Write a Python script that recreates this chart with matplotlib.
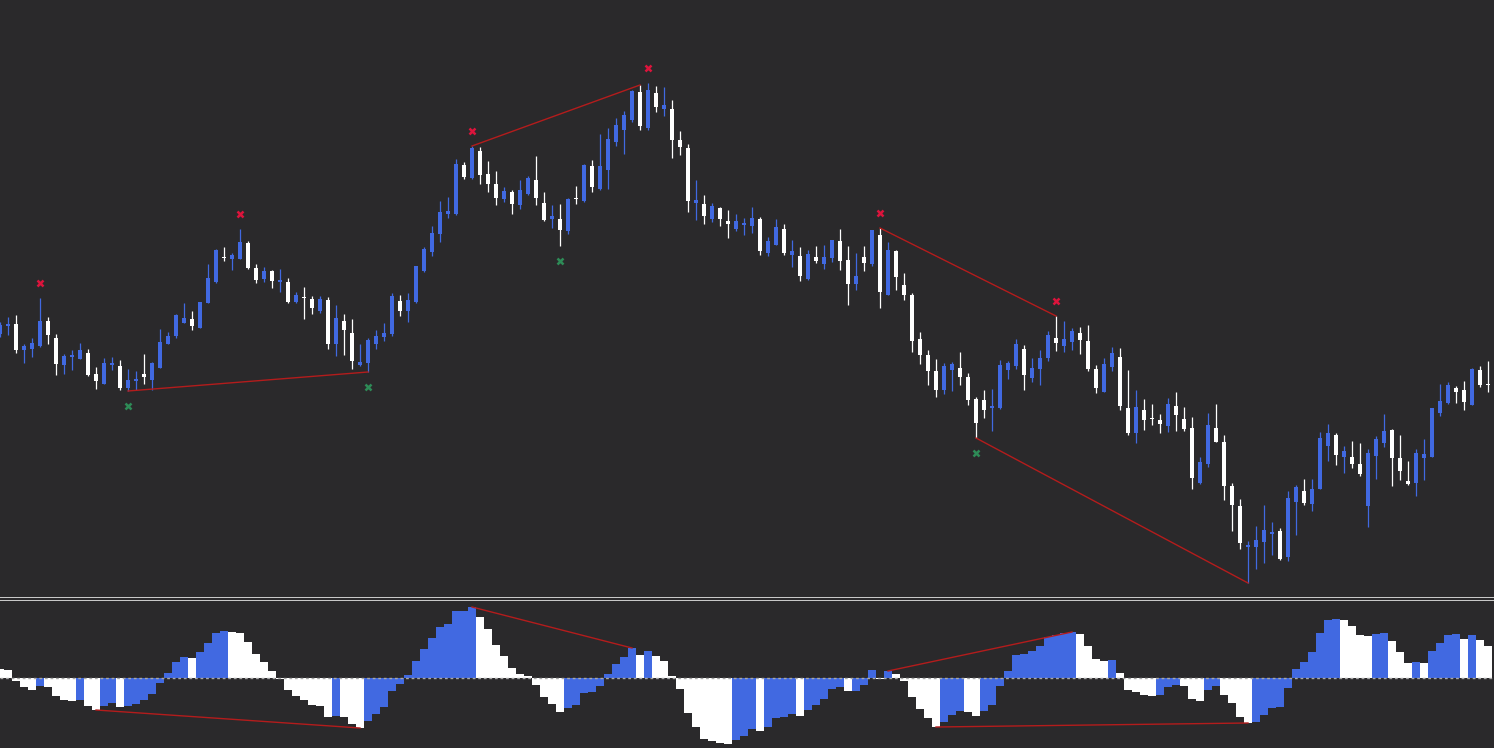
import numpy as np
import matplotlib
matplotlib.use("Agg")
import matplotlib.pyplot as plt

# --- price data (arbitrary points), one candle per bar ---
opens = [666, 674, 676, 650, 651, 654, 679, 662, 635, 643, 641, 647, 626, 616, 635, 634, 612, 619, 626, 620,
         632, 656, 664, 677, 681, 672, 697, 718, 742.5, 741, 741, 757, 732, 721, 729, 718, 718, 698, 703, 701,
         689, 700, 656, 679, 667, 635, 637, 656, 663, 666, 699, 689, 698, 729, 748, 766, 786, 786, 835, 822,
         849, 826, 816, 801, 808, 795, 806, 820, 797, 781, 781, 769, 801.5, 799, 834, 811, 830, 858, 870, 880,
         908, 872, 907, 891, 891, 860, 852, 797, 796, 781, 792, 779, 771, 775, 774, 781, 747, 755, 771, 745,
         744, 721, 743, 736, 742, 759, 740, 716, 743, 736, 765, 705, 749, 715, 705, 661, 645, 629, 610, 630,
         632, 623, 601, 600, 592.5, 592, 630, 634, 651, 622, 631, 642, 662, 654, 658, 667, 659, 631, 608, 633,
         643, 592, 567, 590, 581.5, 580, 574, 594, 581, 572, 517, 536, 572, 558, 514, 494, 453, 453, 458, 466,
         469, 443, 498, 509, 496, 511, 554, 565, 543, 543, 536, 494, 544, 557, 570, 542, 519, 517, 542, 543,
         587, 597, 612, 610, 595, 630, 616]
highs = [678, 683, 685, 656, 662, 702, 683, 666, 646, 650, 657, 651, 633, 642, 643, 640, 631, 629, 646, 638,
         671, 668, 686, 697, 689, 698, 736, 751, 753, 747, 771, 759, 736, 733, 730, 731, 722, 708, 713, 704,
         704, 703, 695, 686, 681, 656, 662, 670, 677, 707, 705, 707, 734, 753, 774, 799, 803, 841, 838, 854,
         853, 839, 829, 813, 810, 820, 824, 844, 808, 795, 796, 802, 814, 836, 840, 866, 872, 882, 889, 910,
         915, 917, 914, 913, 900, 869, 856, 820, 805, 797, 793, 790, 786, 782, 793, 783, 763, 781, 776, 760,
         753, 750, 754, 755, 760, 771, 754, 747, 754, 770, 772, 758, 750, 727, 707, 668, 650, 641, 637, 638,
         648, 627, 603, 610, 611, 640, 639, 661, 655, 642, 650, 669, 684, 679, 672, 673, 675, 635, 642, 653,
         652, 630, 610, 601, 596, 586, 602, 608, 593, 583, 543, 587, 596, 565, 517, 501, 459, 474, 495, 478,
         472, 509, 515, 521, 521, 568, 576, 567, 554, 559, 557, 551, 564, 586, 571, 565, 539, 551, 561, 592,
         616, 618, 614, 619, 632, 634, 639]
lows = [663, 665, 647, 637, 643, 653, 656, 625, 626, 630, 641, 624, 611, 616, 630, 610, 609, 610, 616, 610,
        632, 656, 662, 677, 670, 672, 697, 717, 739, 730, 741, 731, 717, 718, 712, 708, 697, 697, 681, 686,
        687, 651, 644, 645, 631, 634, 628, 651, 659, 664, 684, 678, 697, 728, 744, 758, 782, 785, 821, 821,
        816, 808, 795, 798, 786, 791, 805, 795, 779, 772, 754, 766, 796, 798, 808, 810, 811, 854, 846, 878,
        870, 870, 888, 884, 842, 845, 788, 780, 776, 778, 774, 762, 769, 765, 767, 745, 744, 755, 745, 733,
        719, 720, 737, 731, 738, 730, 695, 710, 729, 734, 692, 705, 710, 700, 648, 636, 615, 603, 606, 609,
        615, 595, 562, 582, 569, 591, 621, 631, 610, 618, 615, 639, 649, 648, 650, 646, 629, 607, 608, 629,
        590, 565, 557, 570, 575, 567, 568, 569, 569, 511, 516, 533, 558, 500, 469, 451, 417, 431, 437, 445,
        440, 439, 465, 495, 489, 511, 539, 535, 527, 532, 524, 473, 521, 553, 514, 520, 515, 504, 520, 543,
        584, 596, 597, 590, 595, 613, 608]
closes = [675, 676, 650, 654, 657, 679, 665, 636, 644, 645, 650, 625, 619, 637, 637, 612, 620, 621, 623, 637,
          658, 664, 685, 682, 674, 698, 722, 750, 742, 745, 758, 732, 720, 729, 719, 720, 698, 705, 702, 692,
          701, 656, 682, 670, 639, 638, 660, 664, 667, 704, 689, 700, 734, 751, 767, 788, 789, 836, 823, 852,
          825, 816, 802, 809, 796, 810, 822, 802, 780, 784, 770, 801, 801, 835, 813, 834, 861, 875, 885, 909,
          874, 910, 893, 895, 860, 853, 799, 800, 784, 794, 781, 776, 779, 777, 782, 749, 759, 773, 747, 749,
          724, 746, 739, 743, 760, 739, 716, 724, 737, 770, 708, 750, 723, 705, 659, 645, 629, 610, 634, 636,
          623, 600, 577, 590, 593, 635, 637, 656, 625, 632, 642, 665, 657, 661, 669, 660, 631, 612, 636, 647,
          594, 567, 593, 580, 581, 576, 596, 585, 571, 522, 538, 575, 558, 514, 495, 457, 455, 460, 470, 468,
          441, 502, 513, 497, 511, 562, 567, 545, 549, 536, 526, 547, 561, 569, 542, 529, 516, 547, 546, 592,
          599, 615, 608, 598, 631, 615, 615]

# oscillator histogram values
osc = [9, 8, -3, -9, -12, -8, -9, -18, -22, -23, -22, -28, -32, -28, -25, -29, -28, -26, -22, -16,
       -5, 5, 16, 21, 20.5, 26, 35, 45, 47, 46, 45.5, 36, 24, 16, 7, -0.5, -12, -18, -22, -27,
       -27.5, -39, -38, -39, -46, -50, -43, -36, -29, -13, -6, 3, 17, 29, 40, 51, 54, 67, 67.5, 71,
       61, 49, 33, 22, 10, 4, 2, -7, -19, -26, -34, -30, -27, -15, -14, -8, 4, 14, 21, 30,
       23, 27, 22, 17, 2, -11, -35, -49, -61, -63, -65, -66, -62, -58, -51, -53, -49, -40, -39, -36,
       -38, -32, -27, -21, -11, -9, -13, -12.5, -7, 8, -0.5, 7, 4, -3, -19, -31, -40, -49, -44, -37,
       -33, -34, -38, -33, -27, -8, 7, 23, 24, 27, 32, 41, 43, 45, 46, 44, 32, 19, 17, 18,
       5, -12, -14, -17, -18, -17, -9, -7, -7.5, -21, -23, -12, -8, -17, -25, -39, -45, -44, -37, -30,
       -29, -10, 9, 16, 26, 45, 58, 59, 58, 52, 43, 42, 44, 45, 37, 26, 15, 16, 15, 27,
       35, 43, 44, 39, 43, 38, 32]

# swing points and divergences (bar indices)
swing_highs = [5, 30, 59, 81, 110, 132]
swing_lows = [16, 46, 70, 122]
price_div_lows = [(16, 46), (122, 156)]
price_div_highs = [(59, 80), (110, 132)]
osc_div = [(12, 45), (59, 79), (111, 134), (117, 156)]

BG = "#2a292b"
BLUE = "#4169e1"
WHITE = "#ffffff"
DIV = "#b41c1c"

o = np.array(opens, float)
h = np.array(highs, float)
l = np.array(lows, float)
c = np.array(closes, float)
x = np.arange(len(o))
up = c > o
candle_col = np.where(up, BLUE, WHITE)

osc = np.array(osc, float)
xo = np.arange(len(osc))
rising = np.r_[False, np.diff(osc) > 0]
osc_col = np.where(rising, BLUE, WHITE)

fig = plt.figure(figsize=(14.94, 7.48), dpi=100, facecolor=BG)
ax = fig.add_axes([0, 1 - 597.0 / 748, 1, 597.0 / 748])
ax2 = fig.add_axes([0, 0, 1, 148.5 / 748])

for a in (ax, ax2):
    a.set_facecolor(BG)
    a.set_xticks([])
    a.set_yticks([])
    a.set_xlim(0, 186.75)
    for s in a.spines.values():
        s.set_visible(False)

# separator between panes (two thin grey rules)
ax.spines["bottom"].set_visible(True)
ax.spines["bottom"].set_color("#c8c8c8")
ax.spines["bottom"].set_linewidth(0.72)
ax2.spines["top"].set_visible(True)
ax2.spines["top"].set_color("#c8c8c8")
ax2.spines["top"].set_linewidth(0.72)

# --- candles ---
ax.vlines(x, l, h, colors=candle_col, linewidth=0.9, zorder=2)
body_lo = np.minimum(o, c)
body_h = np.maximum(np.abs(c - o), 1.5)
ax.bar(x, body_h, bottom=body_lo, width=0.62, color=candle_col, linewidth=0, zorder=3)

# divergence lines on price
for i, j in price_div_lows:
    ax.plot([i, j], [l[i], l[j]], color=DIV, linewidth=1.0, zorder=4)
for i, j in price_div_highs:
    ax.plot([i, j], [h[i], h[j]], color=DIV, linewidth=1.0, zorder=4)

# swing markers
ax.plot(swing_highs, h[swing_highs] + 15, linestyle="none", marker="x", markersize=5,
        mew=1.8, color="#dc143c", zorder=5)
ax.plot(swing_lows, l[swing_lows] - 15, linestyle="none", marker="x", markersize=5,
        mew=1.8, color="#2e8b57", zorder=5)
ax.set_ylim(403, 1000)

# --- oscillator ---
ax2.bar(xo, osc, width=1.0, color=osc_col, linewidth=0, zorder=2)
ax2.axhline(0, color="#a8a8a8", linewidth=1.0, linestyle=(0, (2, 2)), zorder=3)
for i, j in osc_div:
    ax2.plot([i, j], [osc[i], osc[j]], color=DIV, linewidth=1.0, zorder=4)
ax2.set_ylim(-70, 78.5)

fig.savefig("out.png", dpi=100, facecolor=BG)
